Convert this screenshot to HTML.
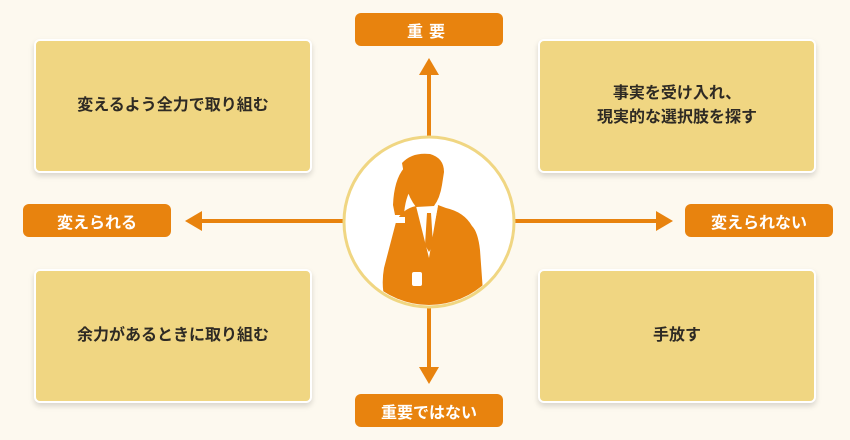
<!DOCTYPE html>
<html><head><meta charset="utf-8"><style>
body{margin:0;width:850px;height:440px;background:#fdf9ef;position:relative;overflow:hidden;font-family:"Liberation Sans","Noto Sans CJK JP",sans-serif}
.box{position:absolute;width:274px;height:130px;background:#f0d682;border:2px solid #fff;border-radius:6px;box-shadow:0 3px 6px rgba(0,0,0,0.15);display:flex;align-items:center;justify-content:center;text-align:center;font-size:16px;font-weight:bold;color:#2e2a24;line-height:24px}
.lab{position:absolute;width:148px;height:33px;background:#e8830e;border-radius:6px;color:#fff;font-weight:bold;font-size:16px;display:flex;align-items:center;justify-content:center}
svg{position:absolute;left:0;top:0}
</style></head><body>
<svg width="850" height="440">
<defs><clipPath id="c"><circle cx="429" cy="222" r="83"/></clipPath></defs>
<g stroke="#e8830e" stroke-width="4">
<line x1="429" y1="72" x2="429" y2="140"/>
<line x1="429" y1="305" x2="429" y2="370"/>
<line x1="200" y1="221" x2="345" y2="221"/>
<line x1="512" y1="221" x2="658" y2="221"/>
</g>
<g fill="#e8830e">
<polygon points="429,58 419,75 439,75"/>
<polygon points="429,384 419,367 439,367"/>
<polygon points="185,221 202,211 202,231"/>
<polygon points="673,221 656,211 656,231"/>
</g>
<circle cx="429" cy="222" r="85" fill="#fff" stroke="#f0d682" stroke-width="3"/>
<g fill="#e8830e" clip-path="url(#c)">
<path d="M402,163 Q412,152 430,154 Q444,158 444,172 L442,185 Q440,198 434,206 L416,207 Q409,198 406,186 Z"/>
<path d="M416,206 Q402,209 396,222 L384,268 Q381,285 385,300 L380,320 L485,320 L480,250 Q478,232 472,226 Q464,212 446,208 L438,205 L429,258 Z"/>
<path d="M404,168 Q394,180 393,205 L395,215 L404,215 Q405,198 412,187 Z"/>
</g>
<rect x="390" y="217" width="15" height="6" fill="#fff"/>
<polygon points="420,207 429,252 438,206 432,211 426,211" fill="#fff"/>
<polygon points="427,213 431,213 433,245 429,252 425,245" fill="#e8830e"/>
<rect x="412" y="272" width="10" height="14" rx="2" fill="#fff"/>
</svg>
<div class="box" style="left:34px;top:39px">変えるよう全力で取り組む</div>
<div class="box" style="left:538px;top:39px">事実を受け入れ、<br>現実的な選択肢を探す</div>
<div class="box" style="left:34px;top:269px">余力があるときに取り組む</div>
<div class="box" style="left:538px;top:269px">手放す</div>
<div class="lab" style="left:355px;top:13px;letter-spacing:6px">重要</div>
<div class="lab" style="left:23px;top:204px">変えられる</div>
<div class="lab" style="left:685px;top:204px">変えられない</div>
<div class="lab" style="left:355px;top:394px">重要ではない</div>
</body></html>
